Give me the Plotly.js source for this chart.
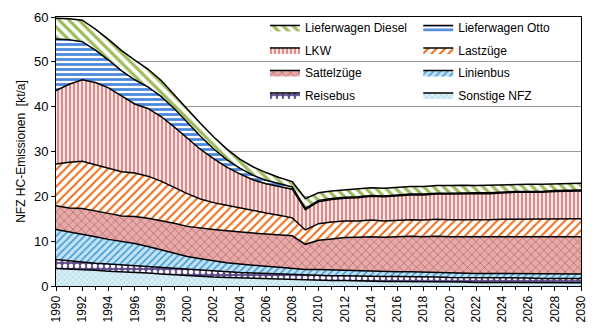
<!DOCTYPE html>
<html><head><meta charset="utf-8">
<script src="https://cdn.plot.ly/plotly-3.0.1.min.js"></script>
<style>html,body{margin:0;padding:0;background:#fff}#c{width:600px;height:333px}</style>
</head><body><div id="c"></div>
<script>
const years = [];
for (let y = 1990; y <= 2030; y++) years.push(y);

const sonstigeNFZ = [3.9,3.8,3.7,3.5,3.3,3.2,3.1,2.9,2.7,2.5,2.3,2.1,2.0,1.9,1.8,1.7,1.6,1.5,1.4,1.3,1.3,1.2,1.2,1.1,1.1,1.0,1.0,1.0,0.9,0.9,0.9,0.9,0.8,0.8,0.8,0.8,0.8,0.7,0.7,0.7,0.7];
const reisebus = [2.0,1.8,1.7,1.6,1.6,1.5,1.4,1.4,1.4,1.4,1.4,1.4,1.3,1.2,1.2,1.2,1.2,1.2,1.2,1.1,1.1,1.1,1.1,1.1,1.1,1.1,1.1,1.1,1.1,1.1,1.0,1.0,1.0,1.0,1.0,1.0,1.0,1.0,1.0,1.0,1.0];
const linienbus = [6.7,6.5,6.2,5.9,5.5,5.2,5.0,4.5,4.0,3.4,2.9,2.6,2.3,2.1,1.9,1.7,1.6,1.5,1.4,1.3,1.3,1.3,1.2,1.2,1.2,1.1,1.1,1.1,1.1,1.1,1.1,1.0,1.0,1.0,1.0,1.0,1.0,1.0,1.0,1.0,1.0];
const sattelzuege = [5.3,5.3,5.7,5.8,5.8,5.7,6.0,6.3,6.5,6.7,6.7,6.8,7.0,7.1,7.1,7.2,7.2,7.2,7.2,5.6,6.5,6.9,7.3,7.5,7.6,7.7,7.8,7.9,7.9,8.0,8.0,8.1,8.1,8.1,8.2,8.2,8.2,8.2,8.3,8.3,8.3];
const lastzuege = [9.3,10.2,10.5,10.2,10.0,9.9,9.7,9.4,8.8,8.0,7.3,6.5,6.0,5.7,5.4,5.0,4.7,4.4,4.0,3.2,3.7,3.8,3.7,3.6,3.7,3.6,3.7,3.7,3.7,3.8,3.8,3.8,3.8,3.9,3.9,3.9,3.9,4.0,4.0,4.0,4.0];
const lkw = [16.4,17.4,18.2,18.4,18.0,16.8,15.4,15.1,14.4,13.5,12.4,11.1,9.8,8.5,7.6,6.9,6.5,6.4,6.4,4.5,4.9,5.0,5.1,5.2,5.3,5.4,5.4,5.5,5.6,5.6,5.7,5.8,5.9,5.8,5.9,6.0,6.0,6.0,6.1,6.1,6.2];
const lieferwagenOtto = [11.5,9.9,8.5,7.2,6.2,5.7,5.4,4.8,4.5,4.1,3.5,2.9,2.2,1.7,1.3,1.0,0.8,0.6,0.5,0.3,0.3,0.2,0.2,0.2,0.2,0.2,0.2,0.2,0.2,0.2,0.2,0.2,0.2,0.2,0.2,0.2,0.2,0.2,0.2,0.2,0.2];
const lieferwagenDiesel = [4.6,4.7,4.8,4.7,4.6,4.5,4.4,4.0,3.6,3.2,3.0,2.9,2.7,2.4,2.0,1.9,1.7,1.4,1.2,2.2,1.7,1.7,1.6,1.7,1.7,1.7,1.7,1.7,1.7,1.7,1.7,1.7,1.6,1.7,1.6,1.6,1.6,1.6,1.5,1.6,1.5];

const seriesNames = ['Sonstige NFZ','Reisebus','Linienbus','Sattelzüge','Lastzüge','LKW','Lieferwagen Otto','Lieferwagen Diesel'];
const seriesValues = [sonstigeNFZ, reisebus, linienbus, sattelzuege, lastzuege, lkw, lieferwagenOtto, lieferwagenDiesel];
const legendOf = ['legend2','legend','legend2','legend','legend2','legend','legend2','legend'];
const patterns = [
  {shape:'x', bgcolor:'#d9eff6', fgcolor:'#9fd3e6', size:4, solidity:0.25},
  {shape:'.', bgcolor:'#5e4c8c', fgcolor:'#ffffff', size:6, solidity:0.45},
  {shape:'/', bgcolor:'#c4e2f4', fgcolor:'#3d9ad6', size:5, solidity:0.3},
  {shape:'x', bgcolor:'#eaa9a9', fgcolor:'#7d4646', size:6, solidity:0.15},
  {shape:'/', bgcolor:'#ffffff', fgcolor:'#ec6f1a', size:6, solidity:0.35},
  {shape:'|', bgcolor:'#fbe6e6', fgcolor:'#dc8a8a', size:4, solidity:0.5},
  {shape:'-', bgcolor:'#ffffff', fgcolor:'#4a88dc', size:5, solidity:0.55},
  {shape:'\\', bgcolor:'#ffffff', fgcolor:'#9bbb59', size:7, solidity:0.45}
];

const traces = seriesNames.map((n, i) => ({
  type:'scatter', mode:'lines', name:n, x:years, y:seriesValues[i],
  stackgroup:'one', legend:legendOf[i], legendgroup:'g'+i, legendrank:100 - i,
  line:{color:'#000', width:1.5, shape:'linear'},
  fillpattern:patterns[i], fillcolor:patterns[i].bgcolor,
  hoverinfo:'x+y+name'
}));

const font = {family:'Liberation Sans, Arial, sans-serif', size:12, color:'#000'};
const legendCommon = {orientation:'v', traceorder:'grouped', tracegroupgap:3.5,
  bgcolor:'rgba(0,0,0,0)', borderwidth:0, font:{family:font.family, size:12, color:'#000'},
  xanchor:'left', yanchor:'top', y:1.015};

const layout = {
  width:600, height:333,
  margin:{l:56, r:19, t:17, b:47},
  paper_bgcolor:'#fff', plot_bgcolor:'#fff',
  font:font,
  showlegend:true,
  legend:Object.assign({}, legendCommon, {x:0.398}),
  legend2:Object.assign({}, legendCommon, {x:0.690}),
  xaxis:{range:[1990,2030], dtick:2, tick0:1990, tickangle:-90, ticks:'outside', ticklen:4,
    tickcolor:'#000', showline:true, linecolor:'#000', linewidth:1, mirror:true,
    showgrid:false, zeroline:false, tickfont:{size:12},
    minor:{dtick:1, ticks:'outside', ticklen:3, tickcolor:'#000'}},
  yaxis:{range:[0,60], dtick:10, ticks:'outside', ticklen:4, tickcolor:'#000',
    showline:true, linecolor:'#000', linewidth:1, mirror:true,
    showgrid:true, gridcolor:'#9a9a9a', gridwidth:1, zeroline:false, tickfont:{size:13},
    title:{text:'NFZ HC-Emissionen\u00a0\u00a0[kt/a]', font:{size:12}, standoff:5}}
};

Plotly.newPlot('c', traces, layout, {displayModeBar:false, staticPlot:true});
</script></body></html>
